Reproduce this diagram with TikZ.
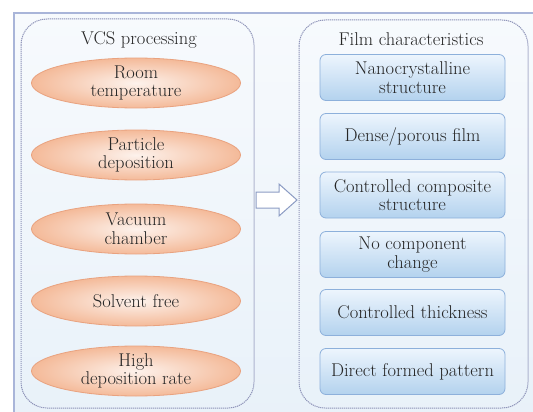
\documentclass[tikz,border=0pt]{standalone}
\usepackage{fontspec}
\usetikzlibrary{shapes.geometric}
\definecolor{txt}{HTML}{262626}
\definecolor{frame}{HTML}{A9B5D9}
\definecolor{dashc}{HTML}{8E93B8}
\definecolor{elin}{HTML}{FDF2EC}
\definecolor{elout}{HTML}{F4BA99}
\definecolor{eldraw}{HTML}{E9A27F}
\definecolor{btop}{HTML}{EDF5FD}
\definecolor{bbot}{HTML}{B3D2EE}
\definecolor{bdraw}{HTML}{8DB0DB}
\definecolor{bgtop}{HTML}{F7FAFD}
\definecolor{bgbot}{HTML}{E8F1F9}
\definecolor{arrc}{HTML}{8C9CC4}
\tikzset{
  every node/.style={font=\rmfamily\fontsize{18.5}{18.5}\selectfont, text=txt},
  ell/.style={ellipse, minimum width=209pt, minimum height=50pt, inner sep=0pt,
    shading=radial, inner color=elin, outer color=elout, draw=eldraw, line width=0.8pt, align=center},
  fbox/.style={rectangle, rounded corners=6pt, minimum width=185pt, minimum height=46pt, inner sep=0pt,
    top color=btop, bottom color=bbot, draw=bdraw, line width=0.8pt, align=center},
  group/.style={draw=dashc, dash pattern=on 1.2pt off 0.8pt, line width=1pt, rounded corners=26pt},
}
\begin{document}
\begin{tikzpicture}[x=1pt, y=-1pt]
\useasboundingbox (0,0) rectangle (533,412);
\fill[white] (0,0) rectangle (533,412);
% outer frame
\shade[top color=bgtop, bottom color=bgbot] (14,13) rectangle (545,425);
\draw[frame, line width=1.6pt] (14,425) -- (14,13) -- (545,13);
% groups
\draw[group] (21,19) rectangle (254,408);
\draw[group] (299,20) rectangle (528,408);
% titles
\node (t1) at (139,40) {VCS processing};
\node (t2) at (411,39) {Film characteristics};
% ellipses
\node[ell] (e1) at (136,83) {Room\\temperature};
\node[ell] (e2) at (136,155) {Particle\\deposition};
\node[ell] (e3) at (136,229) {Vacuum\\chamber};
\node[ell] (e4) at (136,301) {Solvent free};
\node[ell] (e5) at (136,371) {High\\deposition rate};
% boxes
\node[fbox] (b1) at (412.5,77.5) {Nanocrystalline\\structure};
\node[fbox] (b2) at (412.5,136.5) {Dense/porous film};
\node[fbox] (b3) at (412.5,195) {Controlled composite\\structure};
\node[fbox] (b4) at (412.5,254.5) {No component\\change};
\node[fbox] (b5) at (412.5,312.5) {Controlled thickness};
\node[fbox] (b6) at (412.5,371.5) {Direct formed pattern};
% arrow
\filldraw[fill=white, draw=arrc, line width=1pt, line join=miter]
  (256,192) -- (279,192) -- (279,184) -- (297,200) -- (279,216) -- (279,208) -- (256,208) -- cycle;
\end{tikzpicture}
\end{document}
